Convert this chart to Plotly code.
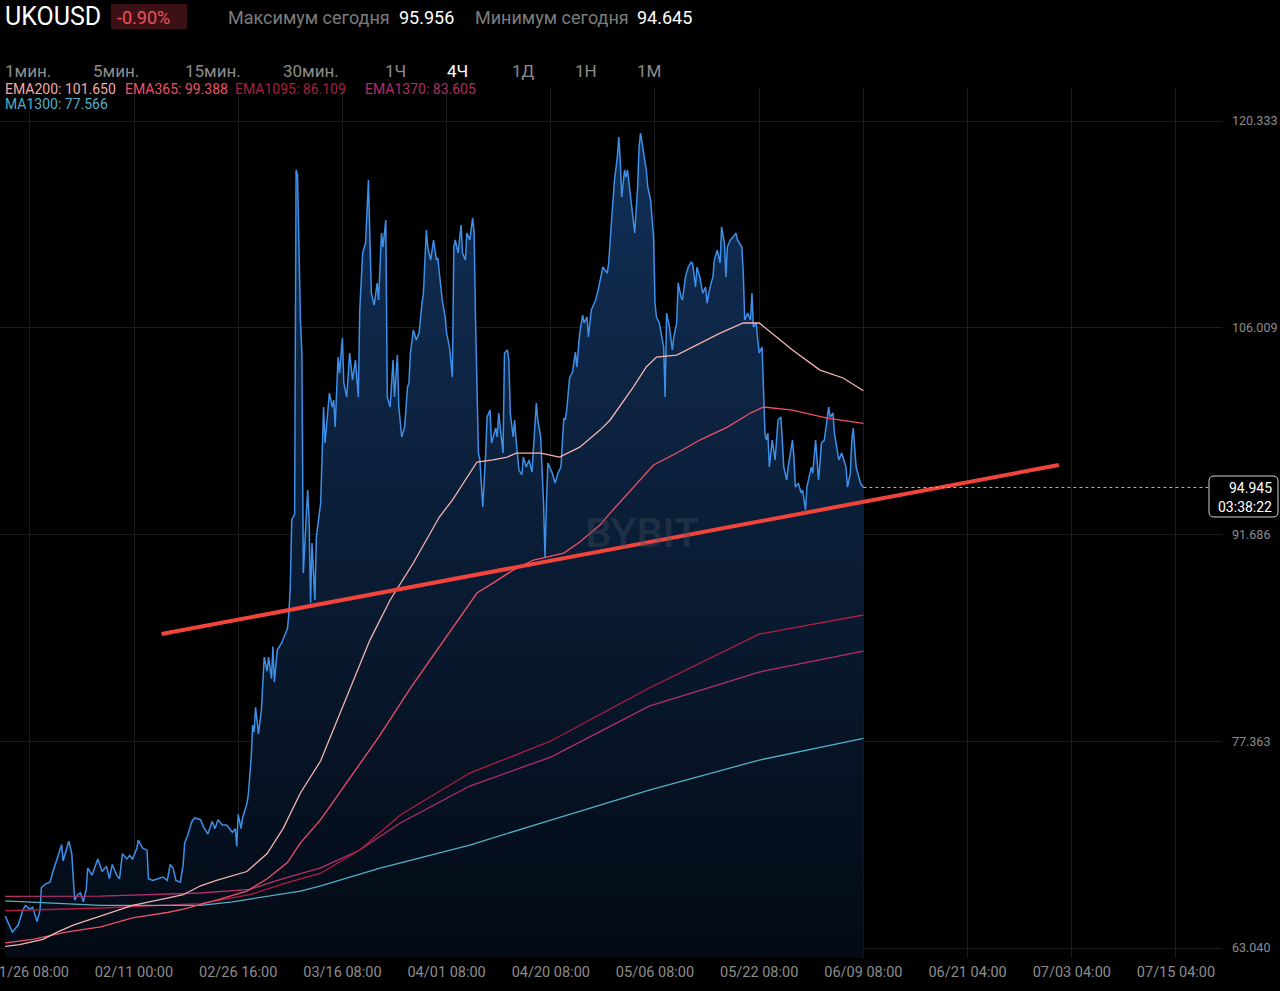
import plotly.graph_objects as go

# 4h bar index, 0 = 01/26 08:00, one tick every 72 bars
tick_bars = [0, 72, 144, 216, 288, 360, 432, 504, 576, 648, 720, 792]
tick_labels = ["01/26 08:00", "02/11 00:00", "02/26 16:00", "03/16 08:00", "04/01 08:00",
               "04/20 08:00", "05/06 08:00", "05/22 08:00", "06/09 08:00", "06/21 04:00",
               "07/03 04:00", "07/15 04:00"]
price_ticks = [63.040, 77.363, 91.686, 106.009, 120.333]

# close prices
bars = [-17, -12, -8, -5, -3, 0, 2, 5, 7, 8, 11, 14, 16, 19, 22, 23, 25, 27, 29, 31, 33, 35, 37, 39,
        40, 43, 47, 50, 53, 55, 57, 60, 62, 64, 67, 69, 71, 74, 75, 78, 81, 82, 85, 89, 92, 95, 97,
        99, 101, 104, 106, 107, 109, 112, 114, 118, 120, 123, 126, 128, 130, 133, 136, 140, 142,
        143, 144, 146, 147, 150, 151, 153, 154, 155, 156, 158, 160, 162, 164, 165, 167, 168, 169,
        171, 174, 176, 178, 179, 180, 181, 183, 184, 185, 187, 188, 189, 192, 193, 194, 195, 197,
        198, 201, 203, 204, 206, 207, 209, 210, 211, 213, 214, 216, 217, 219, 221, 223, 225, 227,
        228, 230, 232, 234, 235, 236, 238, 240, 241, 243, 244, 246, 247, 249, 251, 252, 254, 255,
        257, 259, 261, 262, 263, 265, 267, 269, 271, 272, 274, 275, 277, 279, 281, 282, 283, 285,
        287, 288, 290, 292, 293, 294, 296, 298, 299, 301, 302, 304, 306, 307, 308, 310, 311, 312,
        313, 315, 316, 318, 319, 322, 323, 324, 326, 327, 328, 330, 331, 332, 334, 335, 336, 338,
        340, 341, 343, 345, 347, 348, 350, 351, 353, 355, 356, 357, 358, 361, 363, 365, 367, 369,
        370, 371, 373, 375, 377, 378, 380, 382, 383, 385, 386, 388, 389, 391, 393, 395, 396, 399,
        400, 402, 404, 406, 407, 408, 409, 411, 412, 413, 416, 417, 418, 420, 421, 422, 424, 426,
        427, 429, 431, 432, 433, 435, 438, 439, 440, 442, 444, 445, 447, 448, 450, 451, 453, 455,
        457, 458, 460, 461, 463, 465, 467, 468, 470, 472, 473, 475, 477, 478, 480, 481, 482, 484,
        486, 488, 489, 492, 493, 494, 495, 496, 498, 499, 500, 502, 503, 504, 506, 507, 508, 509,
        510, 511, 513, 515, 517, 519, 520, 521, 523, 524, 527, 528, 529, 531, 533, 534, 536, 537,
        538, 540, 541, 543, 544, 545, 546, 547, 549, 550, 552, 553, 555, 556, 558, 559, 561, 563,
        564, 565, 567, 568, 569, 571, 572, 574, 576]
close = [65.25, 64.14, 64.63, 65.62, 65.99, 65.74, 65.87, 64.88, 65.62, 67.23, 67.48, 67.60, 68.34,
         69.21, 70.20, 69.08, 69.70, 70.44, 69.58, 66.36, 66.73, 66.85, 66.24, 67.10, 68.58, 68.09,
         69.21, 68.34, 68.71, 67.84, 68.83, 68.09, 67.84, 69.58, 69.21, 69.45, 69.21, 69.95, 70.52,
         69.95, 69.82, 67.84, 67.72, 67.84, 67.96, 67.72, 68.83, 68.58, 67.72, 67.60, 68.83, 70.32,
         70.82, 71.81, 72.05, 71.93, 71.43, 70.94, 71.81, 71.31, 71.93, 71.56, 71.56, 71.06, 71.31,
         70.07, 72.30, 71.31, 72.05, 73.04, 73.66, 76.26, 78.48, 77.99, 79.72, 77.87, 79.48, 83.19,
         82.20, 83.19, 81.70, 83.93, 81.46, 83.68, 84.17, 84.67, 85.16, 86.15, 88.14, 92.70, 93.10,
         116.94, 116.59, 106.55, 104.26, 89.02, 94.77, 92.69, 86.94, 91.10, 87.15, 91.51, 93.87,
         100.52, 98.02, 100.31, 101.49, 100.52, 101.00, 99.13, 103.98, 102.87, 105.30, 102.18,
         101.21, 104.26, 102.39, 103.77, 101.21, 107.24, 111.19, 111.88, 116.24, 112.29, 108.41,
         107.58, 109.11, 107.93, 112.57, 111.60, 113.47, 101.21, 100.52, 103.77, 101.21, 104.12,
         100.52, 98.44, 99.13, 101.90, 102.18, 104.26, 105.85, 105.16, 105.64, 107.72, 108.41,
         112.78, 111.60, 110.70, 112.09, 110.70, 110.84, 109.80, 107.93, 106.75, 105.64, 104.67,
         102.59, 111.60, 112.09, 111.19, 113.13, 111.19, 110.70, 112.57, 112.09, 113.61, 112.64,
         106.55, 97.33, 96.85, 94.97, 93.59, 97.33, 99.83, 100.31, 98.02, 99.06, 98.44, 100.10,
         98.02, 97.33, 104.26, 104.47, 103.77, 100.10, 98.44, 99.62, 98.23, 96.15, 95.81, 97.05,
         96.36, 96.85, 96.01, 97.75, 100.79, 99.62, 98.44, 93.87, 90.12, 93.87, 96.64, 95.94, 95.25,
         95.94, 96.36, 99.75, 99.62, 100.31, 102.53, 102.94, 104.33, 103.29, 105.64, 106.89, 106.34,
         106.75, 105.37, 107.24, 107.44, 107.93, 108.76, 109.80, 110.22, 109.80, 110.49, 113.47,
         116.24, 117.84, 119.22, 117.63, 115.07, 116.94, 116.45, 116.94, 114.37, 113.47, 112.57,
         115.76, 118.53, 119.50, 118.12, 116.94, 115.76, 114.86, 112.29, 107.72, 106.75, 106.34,
         104.67, 101.21, 107.03, 106.06, 104.47, 105.37, 106.34, 109.11, 108.14, 107.93, 109.52,
         110.22, 110.56, 110.49, 108.83, 110.22, 109.52, 108.41, 108.83, 107.72, 108.83, 109.52,
         110.70, 111.39, 110.49, 112.99, 111.88, 109.52, 111.60, 112.09, 112.29, 112.57, 112.09,
         111.60, 109.80, 106.55, 106.75, 107.03, 106.55, 108.41, 106.06, 106.34, 105.16, 104.26,
         104.67, 101.49, 98.71, 98.23, 98.71, 96.36, 98.23, 96.85, 99.62, 99.83, 98.23, 96.36,
         95.46, 96.36, 98.23, 97.05, 94.97, 95.25, 94.56, 94.77, 93.38, 94.97, 95.46, 96.36, 95.94,
         98.23, 96.85, 95.46, 96.64, 98.02, 98.23, 99.13, 100.52, 99.83, 100.10, 98.71, 97.33,
         96.85, 97.33, 96.64, 96.36, 94.97, 95.94, 98.23, 99.06, 96.36, 95.94, 95.25, 94.945]

# moving averages
ema200_bars = [-17, -7, 9, 19, 30, 49, 71, 95, 106, 118, 129, 150, 164, 175, 187, 201, 218, 235,
               249, 265, 283, 292, 309, 320, 330, 336, 353, 366, 380, 394, 401, 417, 426, 433, 447,
               463, 477, 493, 504, 516, 527, 546, 562, 576]
ema200 = [63.15, 63.27, 63.64, 64.14, 64.63, 65.25, 65.99, 66.49, 66.73, 67.35, 67.72, 68.34, 69.58,
          71.31, 73.78, 76.01, 80.22, 84.37, 87.15, 89.71, 92.90, 94.07, 96.71, 96.85, 97.05, 97.33,
          97.33, 97.05, 97.74, 98.92, 99.62, 101.90, 103.29, 103.98, 104.12, 104.95, 105.64,
          106.34, 106.34, 105.37, 104.47, 103.08, 102.53, 101.65]
ema365_bars = [-17, 2, 25, 49, 71, 95, 106, 129, 150, 164, 178, 187, 201, 221, 242, 263, 286, 309,
               320, 334, 348, 369, 380, 394, 401, 417, 431, 447, 463, 482, 498, 507, 527, 551, 576]
ema365 = [63.39, 63.64, 64.14, 64.50, 65.12, 65.50, 65.74, 66.36, 66.98, 67.84, 68.96, 70.32, 71.93,
          74.81, 77.79, 81.05, 84.37, 87.63, 88.32, 89.22, 89.92, 90.40, 91.16, 92.34, 93.17, 94.97,
          96.50, 97.33, 98.23, 99.13, 100.10, 100.52, 100.31, 99.75, 99.388]
slow_bars = [-17, 49, 118, 152, 175, 201, 228, 256, 304, 360, 428, 504, 576]
ema1095 = [65.62, 65.81, 66.11, 66.73, 67.48, 68.22, 69.83, 72.25, 75.16, 77.38, 81.05, 84.79, 86.109]
ema1370 = [66.61, 66.64, 66.85, 67.10, 67.84, 68.59, 69.83, 71.70, 74.26, 76.27, 79.80, 82.16, 83.605]
ma1300_bars = [-17, 49, 118, 140, 187, 201, 242, 304, 360, 428, 504, 576]
ma1300 = [66.31, 65.99, 65.99, 66.24, 66.98, 67.35, 68.58, 70.17, 71.90, 73.98, 76.06, 77.566]

# hand-drawn support line
trend_bars = [91, 711]
trend_prices = [84.79, 96.50]

last_price = 94.945

W, H = 1280, 991
PLOT_R, PLOT_T, PLOT_B = 1222, 88, 958


def px_x(p):
    return p / PLOT_R


def px_y(p):
    return (PLOT_B - p) / (PLOT_B - PLOT_T)


fig = go.Figure()

fig.add_trace(go.Scatter(
    x=bars, y=close, mode="lines",
    line=dict(color="#3d8fe8", width=1.5),
    fill="tozeroy",
    fillgradient=dict(type="vertical", start=62, stop=120,
                      colorscale=[[0, "rgba(3,10,20,1)"], [1, "rgba(18,48,88,1)"]]),
    hoverinfo="skip",
))

ma_lines = [
    (ema1370, slow_bars, "#b3306a"),
    (ema1095, slow_bars, "#b01e40"),
    (ma1300, ma1300_bars, "#52afc6"),
    (ema365, ema365_bars, "#ee5068"),
    (ema200, ema200_bars, "#f4b4b0"),
]
for vals, xs, color in ma_lines:
    fig.add_trace(go.Scatter(x=xs, y=vals, mode="lines", line=dict(color=color, width=1.3),
                             hoverinfo="skip"))

fig.add_trace(go.Scatter(x=trend_bars, y=trend_prices, mode="lines",
                         line=dict(color="#f0443c", width=4), hoverinfo="skip"))

# dotted last price line
fig.add_shape(type="line", xref="x", yref="y", x0=bars[-1], x1=815, y0=last_price, y1=last_price,
              line=dict(color="#b5b5b5", width=1, dash="dot"))

# price label box
x0, x1 = px_x(1209), px_x(1278)
y0, y1 = px_y(517), px_y(476)
rx, ry = px_x(5), 5 / (PLOT_B - PLOT_T)
box = (f"M {x0 + rx},{y1} L {x1 - rx},{y1} Q {x1},{y1} {x1},{y1 - ry} "
       f"L {x1},{y0 + ry} Q {x1},{y0} {x1 - rx},{y0} L {x0 + rx},{y0} "
       f"Q {x0},{y0} {x0},{y0 + ry} L {x0},{y1 - ry} Q {x0},{y1} {x0 + rx},{y1} Z")
fig.add_shape(type="path", xref="paper", yref="paper", path=box,
              fillcolor="#000000", line=dict(color="#d0d0d0", width=1))

# -0.90% badge
fig.add_shape(type="rect", xref="paper", yref="paper", x0=px_x(111), x1=px_x(187),
              y0=px_y(29), y1=px_y(4), fillcolor="#3b1116", line=dict(width=0))

FONT = "Roboto, Inter, sans-serif"
GRAY = "#8c8c8c"


def label(text, x, y, color, size, anchor="left"):
    fig.add_annotation(text=text, x=px_x(x), y=px_y(y), xref="paper", yref="paper",
                       xanchor=anchor, yanchor="middle", showarrow=False,
                       font=dict(family=FONT, size=size, color=color))


label("UKOUSD", 3, 16, "#ffffff", 25)
label("-0.90%", 115, 17, "#f2505c", 18)
label("Максимум сегодня", 226, 17, "#7c7c7c", 18)
label("95.956", 397, 17, "#ffffff", 18)
label("Минимум сегодня", 473, 17, "#7c7c7c", 18)
label("94.645", 635, 17, "#ffffff", 18)

for text, x in [("1мин.", 3), ("5мин.", 91), ("15мин.", 183), ("30мин.", 281), ("1Ч", 383),
                ("4Ч", 445), ("1Д", 510), ("1Н", 573), ("1М", 635)]:
    label(text, x, 71, "#ffffff" if text == "4Ч" else GRAY, 17)

label("EMA200: 101.650", 3, 89, "#f4aaa8", 14)
label("EMA365: 99.388", 123, 89, "#ee5068", 14)
label("EMA1095: 86.109", 233, 89, "#a81f3e", 14)
label("EMA1370: 83.605", 363, 89, "#ad2e66", 14)
label("MA1300: 77.566", 3, 104, "#52afc6", 14)

label("94.945", 1274, 488, "#ffffff", 14, anchor="right")
label("03:38:22", 1274, 507, "#ffffff", 14, anchor="right")

fig.add_annotation(text="<b>BYBIT</b>", x=px_x(641), y=px_y(532), xref="paper", yref="paper",
                   showarrow=False, font=dict(family="Lato, sans-serif", size=40,
                                              color="rgba(70,80,95,0.35)"))

fig.update_layout(
    width=W, height=H,
    paper_bgcolor="#000000", plot_bgcolor="#000000",
    margin=dict(l=0, r=W - PLOT_R, t=PLOT_T, b=H - PLOT_B, autoexpand=False),
    showlegend=False,
    xaxis=dict(range=[-20.59, 823.8], tickvals=tick_bars, ticktext=tick_labels,
               showgrid=True, gridcolor="#1b1b1b", gridwidth=1, zeroline=False,
               showline=False, ticks="", ticklabelstandoff=3, ticklabeloverflow="allow",
               automargin=False, tickfont=dict(family=FONT, size=14.5, color=GRAY)),
    yaxis=dict(range=[62.347, 122.62], side="right", tickvals=price_ticks,
               ticktext=[f"{v:.3f}" for v in price_ticks],
               showgrid=True, gridcolor="#1b1b1b", gridwidth=1, zeroline=False,
               showline=False, ticks="", ticklabelstandoff=9, automargin=False,
               tickfont=dict(family=FONT, size=12.5, color=GRAY)),
)

fig.write_html("out.html", config={"displayModeBar": False},
               post_script="document.body.style.margin='0';"
                           "document.body.style.background='#000';")
